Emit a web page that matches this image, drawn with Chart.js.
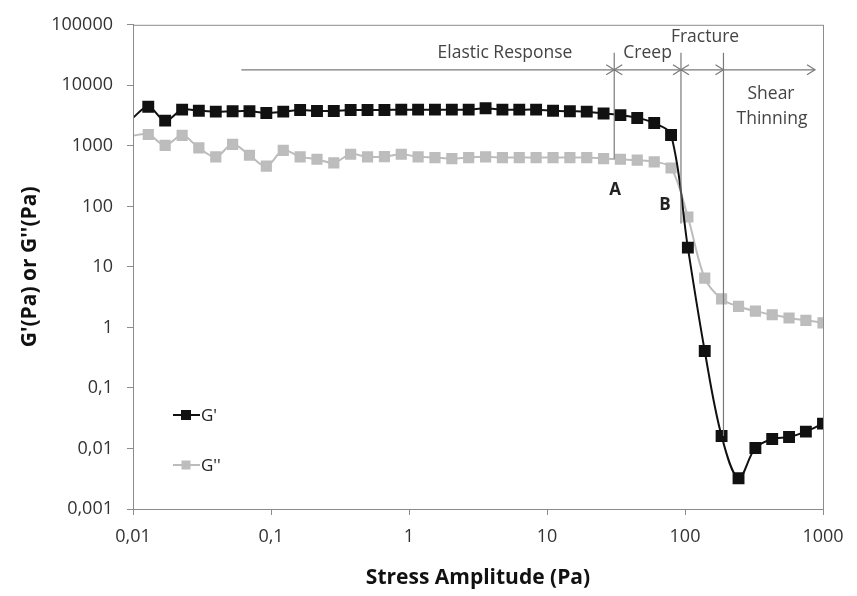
<!DOCTYPE html>
<html>
<head>
<meta charset="utf-8">
<script src="https://cdn.jsdelivr.net/npm/chart.js@4.4.1/dist/chart.umd.min.js"></script>
<style>
  html, body { margin: 0; padding: 0; background: #fff; }
  #wrap { width: 857px; height: 596px; }
</style>
</head>
<body>
<div id="wrap"><canvas id="chart" width="857" height="596"></canvas></div>
<script>
// stress amplitude sweep (Pa)
const stress = [0.0098, 0.0129, 0.0171, 0.0227, 0.0300, 0.0398, 0.0527, 0.0698, 0.0925,
    0.1227, 0.1626, 0.2154, 0.2851, 0.3777, 0.5006, 0.6637, 0.8790,
    1.164, 1.542, 2.044, 2.707, 3.589, 4.753, 6.296, 8.337,
    11.06, 14.65, 19.41, 25.70, 34.04, 45.08, 59.84, 79.25,
    104.9, 139.0, 184.1, 244.3, 323.6, 428.5, 567.5, 751.6, 1000];

const gPrime = [2800, 4430, 2610, 3960, 3810, 3670, 3730, 3730, 3490,
    3670, 3910, 3770, 3770, 3910, 3910, 3910, 3960,
    3960, 3960, 3960, 3960, 4170, 3960, 3960, 3960,
    3810, 3730, 3670, 3420, 3220, 2890, 2380, 1510,
    20.8, 0.408, 0.0161, 0.00323, 0.0102, 0.0143, 0.0155, 0.0190, 0.0257];

const gDouble = [1470, 1540, 1020, 1490, 924, 658, 1060, 699, 462,
    844, 658, 601, 525, 726, 658, 663, 726,
    658, 641, 617, 641, 658, 641, 641, 641,
    641, 641, 641, 617, 600, 579, 545, 431,
    66.8, 6.53, 2.96, 2.22, 1.86, 1.62, 1.43, 1.31, 1.19];

const seriesNames = ["G'", "G''"];
const xTicks = [0.01, 0.1, 1, 10, 100, 1000];
const yTicks = [0.001, 0.01, 0.1, 1, 10, 100, 1000, 10000, 100000];

// regime boundaries along the stress axis
const regionEdges = [0.061, 30.7, 93.5, 190, 875];
const regionNames = ['Elastic Response', 'Creep', 'Fracture', 'Shear Thinning'];

const fontFam = "'Open Sans', 'DejaVu Sans', sans-serif";
const fmt = v => String(v).replace('.', ',');

function chevron(ctx, x, y, dir) {
    ctx.beginPath();
    ctx.moveTo(x - dir * 8, y - 5);
    ctx.lineTo(x, y);
    ctx.lineTo(x - dir * 8, y + 5);
    ctx.stroke();
}

const overlay = {
    id: 'overlay',
    afterDatasetsDraw(chart) {
        const ctx = chart.ctx;
        const a = chart.chartArea;
        const xs = chart.scales.x, ys = chart.scales.y;
        ctx.save();

        // plot frame
        ctx.strokeStyle = '#8c8c8c';
        ctx.lineWidth = 1;
        ctx.strokeRect(a.left + 0.5, a.top + 0.5, a.right - a.left, a.bottom - a.top);

        // regime arrows
        const ay = a.top + 45;
        const ex = regionEdges.map(v => xs.getPixelForValue(v));
        ctx.strokeStyle = '#7a7a7a';
        ctx.lineWidth = 1.2;
        ctx.beginPath();
        ctx.moveTo(ex[0], ay);
        ctx.lineTo(ex[4], ay);
        ctx.stroke();
        chevron(ctx, ex[1], ay, 1);
        chevron(ctx, ex[1], ay, -1);
        chevron(ctx, ex[2], ay, 1);
        chevron(ctx, ex[2], ay, -1);
        chevron(ctx, ex[3], ay, 1);
        chevron(ctx, ex[4], ay, 1);

        // boundary lines
        const bottoms = [610, 52, 0.0161];
        [1, 2, 3].forEach((k, i) => {
            ctx.beginPath();
            ctx.moveTo(ex[k], a.top + 28);
            ctx.lineTo(ex[k], ys.getPixelForValue(bottoms[i]));
            ctx.stroke();
        });

        // labels
        ctx.fillStyle = '#444';
        ctx.font = '17.5px ' + fontFam;
        ctx.textAlign = 'center';
        ctx.textBaseline = 'middle';
        ctx.fillText(regionNames[0], 505, a.top + 28);
        ctx.fillText(regionNames[1], (ex[1] + ex[2]) / 2, a.top + 28);
        ctx.fillText(regionNames[2], 705, a.top + 12);
        const st = regionNames[3].split(' ');
        ctx.fillText(st[0], 771, a.top + 69);
        ctx.fillText(st[1], 772, a.top + 94);

        ctx.fillStyle = '#222';
        ctx.font = 'bold 17px ' + fontFam;
        ctx.fillText('A', ex[1] + 1, a.top + 165);
        ctx.fillText('B', ex[2] - 16, a.top + 180);

        // legend
        chart.data.datasets.forEach((ds, i) => {
            const ly = 415 + i * 50;
            ctx.strokeStyle = ds.borderColor;
            ctx.lineWidth = 2;
            ctx.beginPath();
            ctx.moveTo(173, ly);
            ctx.lineTo(200, ly);
            ctx.stroke();
            ctx.fillStyle = ds.backgroundColor;
            const s = i === 0 ? 10 : 9;
            ctx.fillRect(186 - s / 2, ly - s / 2, s, s);
            ctx.fillStyle = '#222';
            ctx.font = '17px ' + fontFam;
            ctx.textAlign = 'left';
            ctx.fillText(ds.label, 201, ly + 1);
        });
        ctx.restore();
    }
};

const ctx = document.getElementById('chart').getContext('2d');
new Chart(ctx, {
    type: 'line',
    data: {
        labels: stress,
        datasets: [
            {
                label: seriesNames[0],
                data: stress.map((x, i) => ({ x: x, y: gPrime[i] })),
                borderColor: '#111',
                backgroundColor: '#111',
                borderWidth: 2,
                pointStyle: 'rect',
                pointRadius: c => c.dataIndex === 0 ? 0 : 7,
                pointHoverRadius: 7,
                tension: 0.35
            },
            {
                label: seriesNames[1],
                data: stress.map((x, i) => ({ x: x, y: gDouble[i] })),
                borderColor: '#bcbcbc',
                backgroundColor: '#bdbdbd',
                borderWidth: 2,
                pointStyle: 'rect',
                pointRadius: c => c.dataIndex === 0 ? 0 : 6.5,
                pointHoverRadius: 6.5,
                tension: 0.35
            }
        ]
    },
    options: {
        responsive: false,
        animation: false,
        devicePixelRatio: 1,
        layout: { padding: { top: 20, right: 34, left: 0, bottom: 0 } },
        plugins: {
            legend: { display: false },
            tooltip: { enabled: false }
        },
        scales: {
            x: {
                type: 'logarithmic',
                min: 0.01,
                max: 1000,
                afterFit: s => { s.height = 87; },
                afterBuildTicks: s => { s.ticks = xTicks.map(v => ({ value: v })); },
                grid: { drawOnChartArea: false, drawTicks: true, tickLength: 6, color: '#8c8c8c' },
                border: { color: '#8c8c8c' },
                ticks: {
                    autoSkip: false, maxRotation: 0, padding: 11,
                    color: '#333', font: { family: fontFam, size: 18 },
                    callback: v => fmt(v)
                },
                title: {
                    display: true, text: 'Stress Amplitude (Pa)', color: '#111',
                    font: { family: fontFam, size: 21, weight: 'bold' },
                    padding: { top: 0, bottom: 5 }
                }
            },
            y: {
                type: 'logarithmic',
                min: 0.001,
                max: 100000,
                afterFit: s => { s.width = 133; },
                afterBuildTicks: s => { s.ticks = yTicks.map(v => ({ value: v })); },
                grid: { drawOnChartArea: false, drawTicks: true, tickLength: 6, color: '#8c8c8c' },
                border: { color: '#8c8c8c' },
                ticks: {
                    autoSkip: false, padding: 14,
                    color: '#333', font: { family: fontFam, size: 18 },
                    callback: v => fmt(v)
                },
                title: {
                    display: true, text: "G'(Pa) or G''(Pa)", color: '#111',
                    font: { family: fontFam, size: 21, weight: 'bold' },
                    padding: { top: 17, bottom: 0 }
                }
            }
        }
    },
    plugins: [overlay]
});
</script>
</body>
</html>
